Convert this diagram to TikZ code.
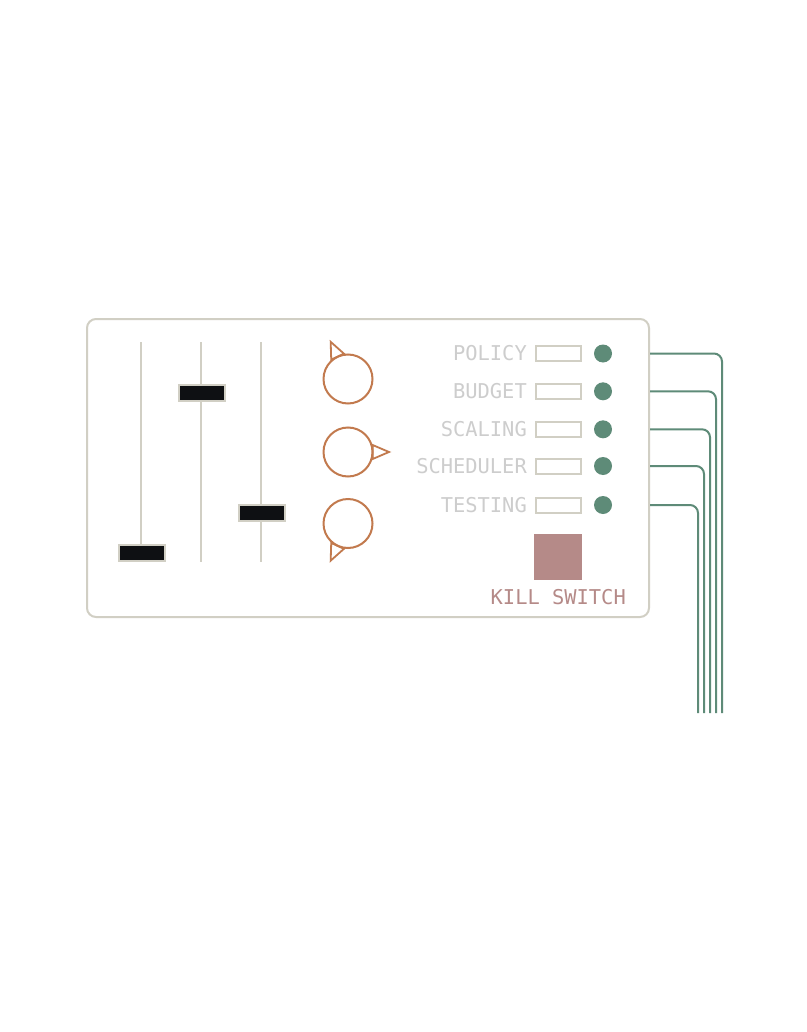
\documentclass[tikz,border=0pt]{standalone}
\usepackage{fontspec}
\setmonofont{DejaVu Sans Mono}
\usetikzlibrary{positioning}

\definecolor{frame}{HTML}{D1CFC4}
\definecolor{handlebk}{HTML}{0E1013}
\definecolor{knobc}{HTML}{C27A4E}
\definecolor{lblgray}{HTML}{CDCDCD}
\definecolor{ledgreen}{HTML}{5E8B78}
\definecolor{rose}{HTML}{B58A88}

\begin{document}
\begin{tikzpicture}[x=1pt,y=-1pt,
  track/.style={draw=frame,line width=2.2pt},
  handle/.style={draw=frame,fill=handlebk,line width=1.8pt,minimum width=46pt,minimum height=15.5pt,inner sep=0},
  knob/.style={circle,draw=knobc,line width=2pt,minimum size=49pt,inner sep=0},
  pointer/.style={draw=knobc,line width=1.8pt,line join=miter},
  lbl/.style={anchor=base east,inner sep=0,text=lblgray,font=\ttfamily\fontsize{20.4}{24}\selectfont},
  slot/.style={draw=frame,fill=white,line width=2pt,minimum width=45pt,minimum height=15pt,inner sep=0},
  led/.style={circle,fill=ledgreen,minimum size=18pt,inner sep=0},
  wire/.style={draw=ledgreen,line width=2pt,rounded corners=8pt}]

  \fill[white] (0,0) rectangle (806,1032);
  \useasboundingbox (0,0) rectangle (806,1032);

  % Pannello
  \node[draw=frame,line width=2pt,rounded corners=9pt,minimum width=562pt,minimum height=298pt] (panel) at (368,468) {};

  % Cursori
  \foreach \x/\h [count=\i] in {141/553,201/393,261/513} {
    \coordinate (top\i) at (\x,342);
    \coordinate (bot\i) at (\x,562);
    \draw[track] (top\i) -- (bot\i);
    \node[handle] (hd\i) at (\x+1,\h) {};
  }

  % Manopole
  \node[knob] (k1) at (348,379) {};
  \node[knob] (k2) at (348,452) {};
  \node[knob] (k3) at (348,523.5) {};
  \foreach \i/\a in {1/115,2/0,3/-115}
    \draw[pointer,shift={(k\i.center)},rotate=\a] (24.7,-7) -- (41,0) -- (24.7,7) -- cycle;

  % Interruttori e fili
  \foreach \name/\y [count=\i] in {POLICY/353.5,BUDGET/391.3,SCALING/429.3,SCHEDULER/466,TESTING/505} {
    \node[lbl] (l\i) at (527,\y+7) {\name};
    \node[slot] (s\i) at (558,\y) {};
    \node[led] (d\i) at (603,\y) {};
    \coordinate (w\i) at (panel.east |- s\i);
    \coordinate (e\i) at ({728-6*\i},713);
    \draw[wire] (w\i) -| (e\i);
  }

  % Kill switch
  \node[fill=rose,minimum width=48pt,minimum height=46pt,inner sep=0] (kill) at (558,557) {};
  \node[lbl,text=rose] (killlbl) at (626,604) {KILL SWITCH};

\end{tikzpicture}
\end{document}
